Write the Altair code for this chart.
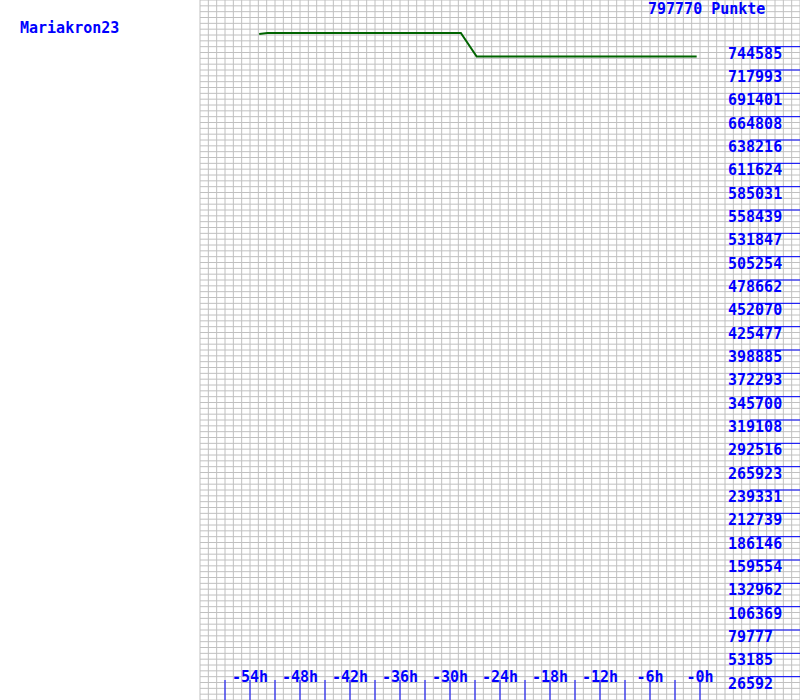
import altair as alt
import pandas as pd

# ---- data ----
player_name = "Mariakron23"
max_points = 797770
max_label = "797770 Punkte"

line_hours = [-52.9, -51.9, -28.7, -26.8, -0.4]
line_points = [759000, 760160, 760160, 733380, 733380]

y_tick_labels = ["26592", "53185", "79777", "106369", "132962", "159554", "186146",
                 "212739", "239331", "265923", "292516", "319108", "345700", "372293",
                 "398885", "425477", "452070", "478662", "505254", "531847", "558439",
                 "585031", "611624", "638216", "664808", "691401", "717993", "744585"]

x_tick_hours = [-57, -54, -51, -48, -45, -42, -39, -36, -33, -30, -27, -24, -21,
                -18, -15, -12, -9, -6, -3, 0]
x_label_hours = [-54, -48, -42, -36, -30, -24, -18, -12, -6, 0]
x_labels = ["-54h", "-48h", "-42h", "-36h", "-30h", "-24h", "-18h", "-12h", "-6h", "-0h"]

# ---- tables ----
line_df = pd.DataFrame({"h": line_hours, "p": line_points})
ytick_df = pd.DataFrame({"v": [float(s) for s in y_tick_labels], "lab": y_tick_labels})
xtick_df = pd.DataFrame({"h": x_tick_hours})
xlab_df = pd.DataFrame({"h": x_label_hours, "lab": x_labels})

# background grid: one column per hour, 120 rows over the point range
vgrid_df = pd.DataFrame({"h": list(range(-60, 13))})
hgrid_df = pd.DataFrame({"v": [max_points * k / 120 for k in range(121)]})

FONT = "DejaVu Sans Mono"
BLUE = "#0000ff"
GRID = "#c0c0c0"

x_scale = alt.Scale(domain=[-60, 12], nice=False, zero=False)
y_scale = alt.Scale(domain=[0, max_points], nice=False, zero=False)

vgrid = alt.Chart(vgrid_df).mark_rule(color=GRID, strokeWidth=1).encode(
    x=alt.X("h:Q", scale=x_scale, axis=None),
    y=alt.datum(0, scale=y_scale, axis=None),
    y2=alt.datum(max_points),
)

hgrid = alt.Chart(hgrid_df).mark_rule(color=GRID, strokeWidth=1).encode(
    y=alt.Y("v:Q", scale=y_scale, axis=None),
    x=alt.datum(-60, scale=x_scale, axis=None),
    x2=alt.datum(12),
)

line = alt.Chart(line_df).mark_line(color="#006400", strokeWidth=2).encode(
    x=alt.X("h:Q", scale=x_scale, axis=None),
    y=alt.Y("p:Q", scale=y_scale, axis=None),
)

ytick_rules = alt.Chart(ytick_df).mark_rule(color=BLUE, strokeWidth=1).encode(
    x=alt.datum(6, scale=x_scale, axis=None), x2=alt.datum(12),
    y=alt.Y("v:Q", scale=y_scale, axis=None),
)

ytick_text = alt.Chart(ytick_df).mark_text(
    color=BLUE, font=FONT, fontSize=15, fontWeight="bold", align="left",
    baseline="alphabetic", dx=-22, dy=12
).encode(
    x=alt.datum(6, scale=x_scale, axis=None),
    y=alt.Y("v:Q", scale=y_scale, axis=None),
    text="lab:N",
)

xtick_rules = alt.Chart(xtick_df).mark_rule(color=BLUE, strokeWidth=1).encode(
    x=alt.X("h:Q", scale=x_scale, axis=None),
    y=alt.datum(0, scale=y_scale, axis=None),
    y2=alt.value(680),
)

xtick_text = alt.Chart(xlab_df).mark_text(
    color=BLUE, font=FONT, fontSize=15, fontWeight="bold", align="center",
    baseline="alphabetic", dy=-18
).encode(
    x=alt.X("h:Q", scale=x_scale, axis=None),
    y=alt.datum(0, scale=y_scale, axis=None),
    text="lab:N",
)

top_text = alt.Chart(pd.DataFrame({"t": [max_label]})).mark_text(
    color=BLUE, font=FONT, fontSize=15, fontWeight="bold", align="left",
    baseline="alphabetic", dx=-52, dy=14
).encode(
    x=alt.datum(0, scale=x_scale, axis=None),
    y=alt.datum(max_points, scale=y_scale, axis=None),
    text="t:N",
)

name_text = alt.Chart(pd.DataFrame({"t": [player_name]})).mark_text(
    color=BLUE, font=FONT, fontSize=15, fontWeight="bold", align="left",
    baseline="alphabetic", dx=-180, dy=33
).encode(
    x=alt.datum(-60, scale=x_scale, axis=None),
    y=alt.datum(max_points, scale=y_scale, axis=None),
    text="t:N",
)

chart = alt.layer(
    vgrid, hgrid, line, ytick_rules, ytick_text, xtick_rules, xtick_text, top_text, name_text
).properties(
    width=600, height=700,
    padding={"left": 200, "top": 0, "right": 0, "bottom": 0},
    autosize=alt.AutoSizeParams(type="none"),
    background="white",
).configure_view(stroke=None)

chart.save("out.html", embed_options={"renderer": "svg", "actions": False})
